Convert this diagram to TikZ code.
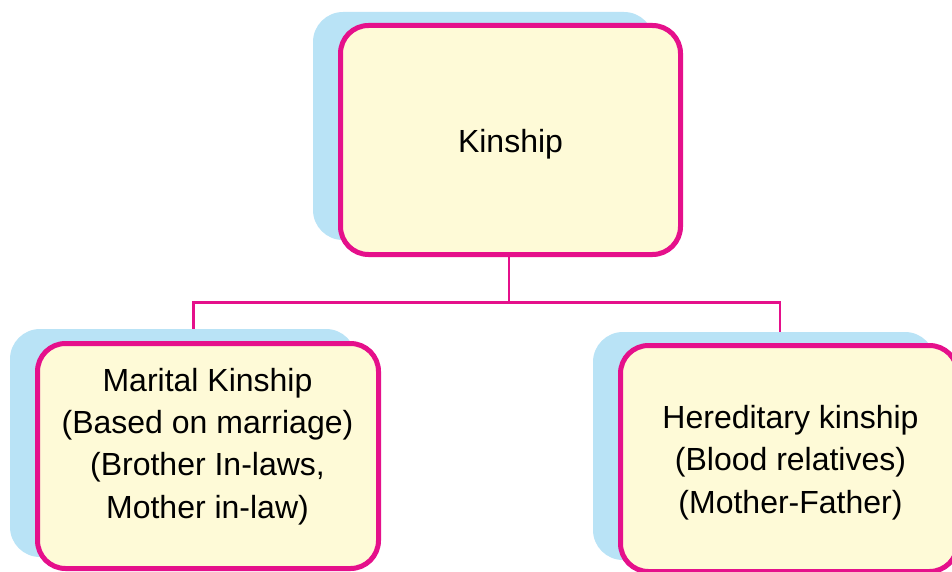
\documentclass[tikz,border=0pt]{standalone}
\usepackage{fontspec}
\setmainfont{Liberation Sans}
\definecolor{rimpink}{RGB}{229,16,139}
\definecolor{cardfill}{RGB}{254,250,215}
\definecolor{shadowblue}{RGB}{185,227,246}
\pgfdeclarelayer{background}
\pgfsetlayers{background,main}
\begin{document}
\begin{tikzpicture}[x=1pt,y=-1pt,
  card/.style={draw=rimpink, line width=5pt, fill=cardfill, rounded corners=28pt, inner sep=0pt},
  cardtext/.style={font=\fontsize{32}{42.3}\selectfont, align=center, inner sep=0pt},
  link/.style={draw=rimpink, line width=2.5pt},
  backdrop/.style={fill=shadowblue, rounded corners=30pt}]
\useasboundingbox (0,0) rectangle (952,572);

% cards
\node[card, minimum width=340pt, minimum height=229pt] (kin) at (510.5,140) {};
\node[card, minimum width=341pt, minimum height=225pt] (marital) at (208,456) {};
\node[card, minimum width=337pt, minimum height=226pt] (hered) at (789,458.5) {};

% card texts
\node[cardtext] (kintext) at (510.5,144) {Kinship};
\node[cardtext] (maritaltext) at (207.5,446.5) {Marital Kinship\\(Based on marriage)\\(Brother In-laws,\\Mother in-law)};
\node[cardtext] (heredtext) at (790.5,462.5) {Hereditary kinship\\(Blood relatives)\\(Mother-Father)};

% bus junctions
\coordinate (busL) at (193.5,302.5);
\coordinate (busM) at (509,302.5);
\coordinate (busR) at (780,302.5);

\begin{pgfonlayer}{background}
  \draw[link] (busM |- kin.south) -- (busM);
  \draw[link] (busL |- marital.north) -- (busL) -- (busR) -- (busR |- hered.north);
  % offset backdrops behind the cards
  \path[backdrop] ([shift={(-25,-11)}]kin.north west) rectangle ([shift={(-29,-17)}]kin.south east);
  \path[backdrop] ([shift={(-25,-12)}]marital.north west) rectangle ([shift={(-25,-14)}]marital.south east);
  \path[backdrop] ([shift={(-25,-11)}]hered.north west) rectangle ([shift={(-25,-14)}]hered.south east);
\end{pgfonlayer}
\end{tikzpicture}
\end{document}
